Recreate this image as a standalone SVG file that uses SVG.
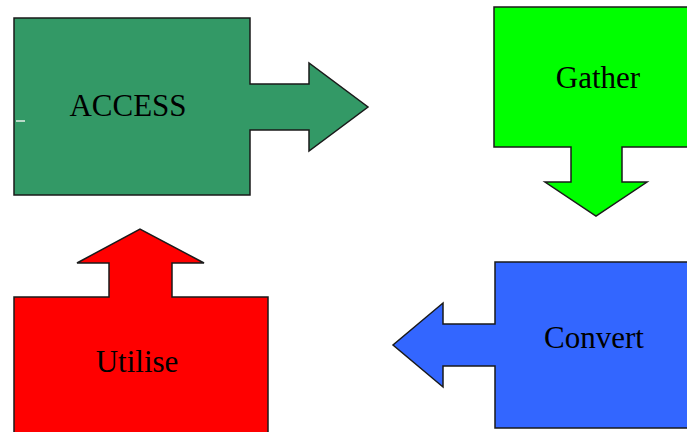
<svg xmlns="http://www.w3.org/2000/svg" width="687" height="432" viewBox="0 0 687 432">
<style>
.s{stroke:#1a1a1a;stroke-width:1.5;stroke-linejoin:miter}
.t{font-family:"Liberation Serif","Times New Roman",serif;font-size:31px;fill:#000;text-anchor:middle}
</style>
<rect width="687" height="432" fill="#fff"/>
<g id="access">
<path class="s" fill="#339966" d="M14,18 H250 V84 H309 V63 L368,107 L309,151 V130 H250 V195 H14 Z"/>
<line x1="16" y1="121" x2="25" y2="121" stroke="#e8f0ea" stroke-width="1.5"/>
<text class="t" x="128" y="116">ACCESS</text>
</g>
<g id="gather">
<path class="s" fill="#00ff00" d="M494,7 H698 V147 H622 V182 H647 L596,216 L545,182 H571 V147 H494 Z"/>
<text class="t" x="598" y="88">Gather</text>
</g>
<g id="convert">
<path class="s" fill="#3366ff" d="M495,262 H698 V428 H495 V366 H443 V387 L393,345 L443,303 V324 H495 Z"/>
<text class="t" x="594" y="348">Convert</text>
</g>
<g id="utilise">
<path class="s" fill="#ff0000" d="M14,440 V297 H109 V263 H77 L140,229 L204,263 H172 V297 H268 V440 Z"/>
<text class="t" x="137" y="372">Utilise</text>
</g>
<g id="connectors"></g>
</svg>
